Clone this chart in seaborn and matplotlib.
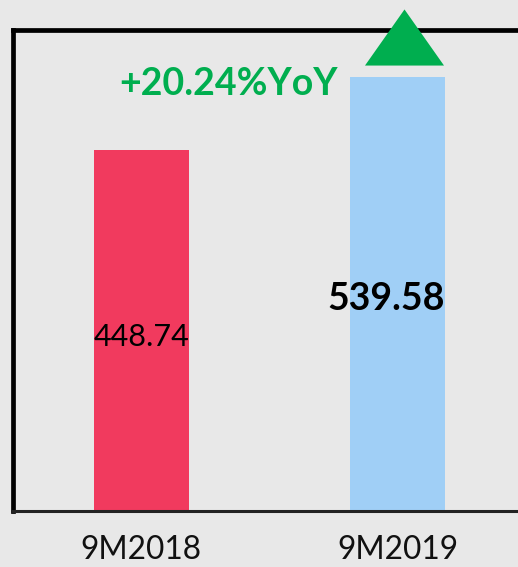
import matplotlib
matplotlib.use("Agg")
import matplotlib.pyplot as plt
import seaborn as sns
import pandas as pd

categories = ["9M2018", "9M2019"]
values = [448.74, 539.58]
bar_colors = ["#F13A5E", "#A0CFF6"]
yoy_text = "+20.24%YoY"

sns.set_theme(style="white")
plt.rcParams["font.family"] = ["Lato", "DejaVu Sans"]

BG = "#E8E8E8"
GREEN = "#00AE4F"
W, H = 518, 567
fig = plt.figure(figsize=(W / 100, H / 100), dpi=100, facecolor=BG)
ax = fig.add_axes([13 / W, (H - 511) / H, (526 - 13) / W, (511 - 30) / H])
ax.set_facecolor(BG)

df = pd.DataFrame({"cat": categories, "val": values})
sns.barplot(data=df, x="cat", y="val", hue="cat", palette=bar_colors,
            width=0.37, saturation=1, legend=False, ax=ax, zorder=2,
            edgecolor="none", linewidth=0)

ax.set_xlim(-0.5, 1.5)
ax.set_ylim(0, 598)
ax.set_xlabel("")
ax.set_ylabel("")
ax.set_yticks([])
ax.tick_params(axis="x", length=0, pad=17, labelsize=22.8, labelcolor="#111111")

for side in ["left", "top"]:
    ax.spines[side].set_visible(True)
    ax.spines[side].set_color("black")
    ax.spines[side].set_linewidth(3.4)
ax.spines["bottom"].set_color("#222222")
ax.spines["bottom"].set_linewidth(2.2)
ax.spines["right"].set_visible(False)

# value labels
ax.text(0, values[0] * 0.49, f"{values[0]:.2f}", ha="center", va="center_baseline",
        fontsize=22, color="black", zorder=4)
ax.text(0.955, values[1] * 0.495, f"{values[1]:.2f}", ha="center", va="center_baseline",
        fontsize=27, fontweight="bold", color="black", zorder=4)

# growth annotation
ax.text(0.342, values[1] * 0.99, yoy_text, ha="center", va="center_baseline",
        fontsize=27, fontweight="bold", color=GREEN, zorder=4)
tri = [(-1, -0.71), (1, -0.71), (0, 0.71), (-1, -0.71)]
ax.scatter([1.025], [589], marker=tri, s=56.9 ** 2, color=GREEN,
           linewidths=0, clip_on=False, zorder=5)

fig.savefig("out.png", dpi=100, facecolor=BG)
